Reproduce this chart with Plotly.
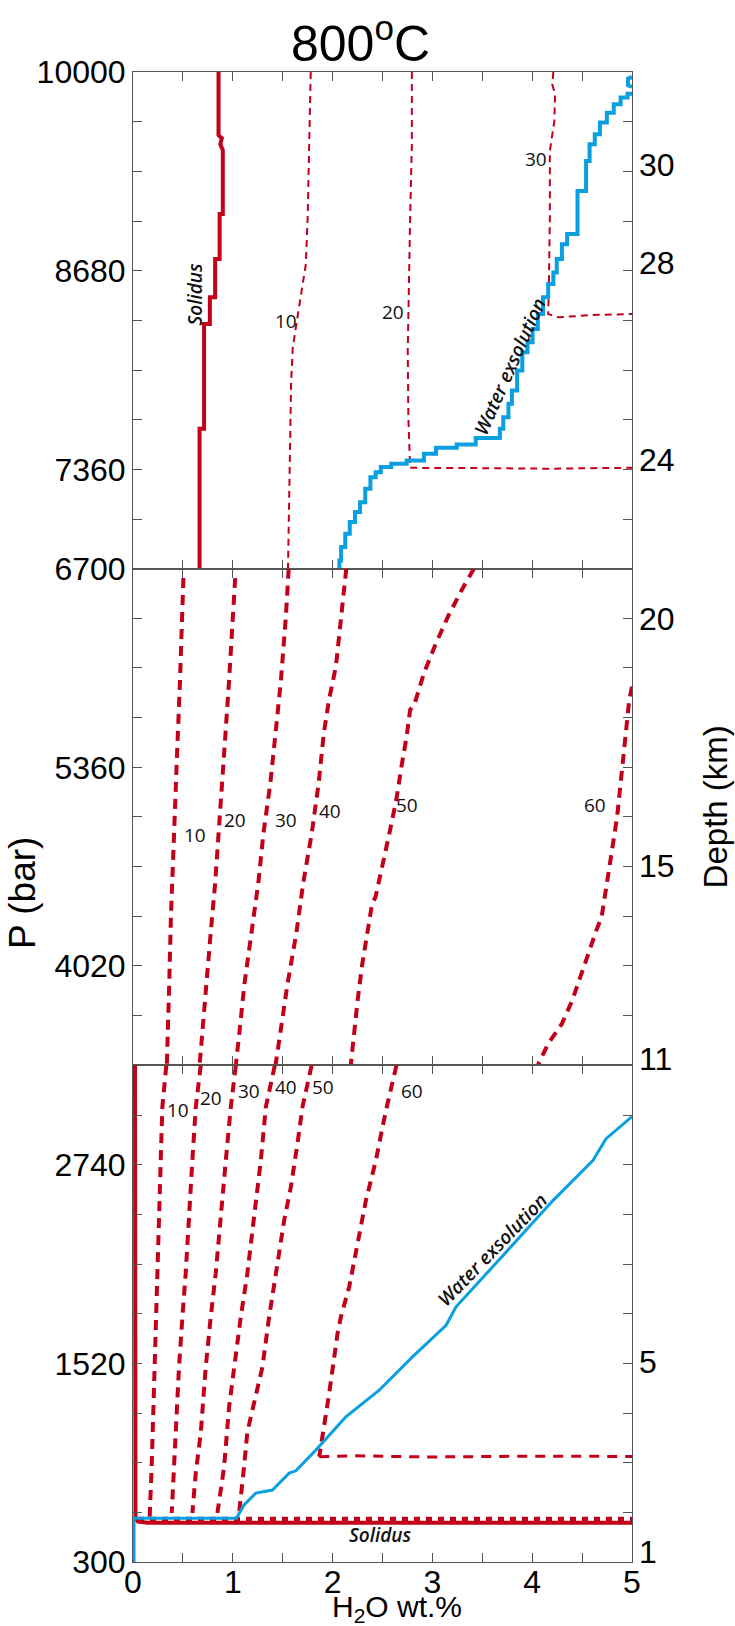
import plotly.graph_objects as go
from plotly.subplots import make_subplots

RED = "#C3001A"
BLUE = "#0A9FE0"
AX = "#555555"
NARROW = "Liberation Sans Narrow, Arial Narrow, Liberation Sans, sans-serif"
LBL = "Open Sans, Liberation Sans, sans-serif"

# ---------------- axes ----------------
x_tick_vals = [0, 0.5, 1, 1.5, 2, 2.5, 3, 3.5, 4, 4.5, 5]
x_tick_text = ["0", "", "1", "", "2", "", "3", "", "4", "", "5"]

p1_tick_vals = [6700, 7030, 7360, 7690, 8020, 8350, 8680, 9010, 9340, 9670, 10000]
p1_tick_text = ["6700", "", "7360", "", "", "", "8680", "", "", "", "10000"]
p2_tick_vals = [3350, 3685, 4020, 4355, 4690, 5025, 5360, 5695, 6030, 6365, 6700]
p2_tick_text = ["", "", "4020", "", "", "", "5360", "", "", "", ""]
p3_tick_vals = [300, 605, 910, 1215, 1520, 1825, 2130, 2435, 2740, 3045, 3350]
p3_tick_text = ["300", "", "", "", "1520", "", "", "", "2740", "", ""]

depth_labels = ["30", "28", "24", "20", "15", "11", "5", "1"]
depth_panel = [1, 1, 1, 2, 2, 2, 3, 3]
depth_pressure = [9383, 8734, 7425, 6361, 4695, 3393, 1528, 361]

# ---------------- panel 1 (6700-10000 bar) ----------------
p1_solidus_x = [0.857, 0.857, 0.89, 0.875, 0.90, 0.90, 0.868, 0.868, 0.823, 0.823, 0.77, 0.77, 0.712, 0.712, 0.667, 0.667]
p1_solidus_p = [10000, 9580, 9560, 9520, 9480, 9056, 9056, 8757, 8757, 8503, 8503, 8326, 8326, 7629, 7629, 6700]

p1_iso10_x = [1.781, 1.767, 1.75, 1.732, 1.687, 1.653, 1.601, 1.584, 1.573, 1.559, 1.553]
p1_iso10_p = [10000, 9476, 9033, 8724, 8547, 8392, 8171, 7928, 7486, 7043, 6700]
p1_iso20_x = [2.794, 2.794, 2.777, 2.766, 2.753, 2.759, 2.777, 2.777, 3.5, 4.2, 4.6, 5.0]
p1_iso20_p = [10000, 9520, 9033, 8591, 8149, 7706, 7397, 7370, 7368, 7364, 7368, 7370]
p1_iso30_x = [4.212, 4.201, 4.229, 4.222, 4.177, 4.177, 4.167, 4.160, 4.26, 4.6, 5.0]
p1_iso30_p = [10000, 9918, 9852, 9675, 9476, 9033, 8591, 8392, 8370, 8385, 8392]

p1_water_x = [2.068, 2.085, 2.127, 2.172, 2.224, 2.275, 2.327, 2.379, 2.431, 2.483, 2.587, 2.742,
              2.915, 3.036, 3.244, 3.434, 3.676, 3.710, 3.762, 3.797, 3.849, 3.901, 3.953, 4.004,
              4.056, 4.108, 4.160, 4.212, 4.246, 4.298, 4.350, 4.454, 4.454, 4.540, 4.575, 4.627,
              4.679, 4.748, 4.817, 4.886, 4.955, 5.0]
p1_water_p = [6700, 6755, 6844, 6932, 7010, 7076, 7142, 7231, 7308, 7341, 7375, 7397,
              7419, 7463, 7503, 7525, 7569, 7629, 7706, 7795, 7883, 8016, 8138, 8204,
              8292, 8392, 8503, 8591, 8668, 8757, 8856, 8923, 9067, 9210, 9409, 9520,
              9586, 9664, 9730, 9785, 9830, 9856]
p1_loop_x = [5.0, 4.96, 4.96, 5.0]
p1_loop_p = [9967, 9956, 9912, 9900]

p1_iso_text = ["10", "20", "30"]
p1_iso_lx = [1.53, 2.61, 4.04]
p1_iso_lp = [8343, 8403, 9425]

# ---------------- panel 2 (3350-6700 bar) ----------------
p2_iso10_x = [0.505, 0.494, 0.470, 0.443, 0.415, 0.398, 0.380, 0.363, 0.349, 0.339]
p2_iso10_p = [6637, 6378, 5928, 5478, 5027, 4802, 4352, 3902, 3564, 3350]
p2_iso20_x = [1.024, 0.996, 0.961, 0.927, 0.892, 0.858, 0.823, 0.778, 0.737, 0.695, 0.667]
p2_iso20_p = [6637, 6265, 5928, 5590, 5252, 4915, 4577, 4239, 3902, 3564, 3350]
p2_iso30_x = [1.560, 1.532, 1.480, 1.428, 1.376, 1.307, 1.255, 1.186, 1.117, 1.065, 1.030]
p2_iso30_p = [6700, 6378, 5928, 5590, 5252, 4915, 4577, 4239, 3902, 3564, 3350]
p2_iso40_x = [2.137, 2.085, 2.033, 1.964, 1.912, 1.860, 1.791, 1.705, 1.636, 1.549, 1.480, 1.428]
p2_iso40_p = [6700, 6378, 6040, 5815, 5590, 5252, 4915, 4577, 4239, 3902, 3564, 3350]
p2_iso50_x = [3.416, 3.295, 3.157, 3.036, 2.915, 2.818, 2.777, 2.742, 2.690, 2.638, 2.569, 2.500,
              2.431, 2.396, 2.345, 2.293, 2.251, 2.216, 2.182]
p2_iso50_p = [6700, 6558, 6378, 6198, 5995, 5781, 5748, 5568, 5365, 5140, 4915, 4690,
              4487, 4442, 4239, 4014, 3789, 3564, 3350]
p2_iso60_x = [5.0, 4.972, 4.945, 4.921, 4.886, 4.851, 4.800, 4.748, 4.696, 4.644, 4.575, 4.488,
              4.402, 4.298, 4.160, 4.056]
p2_iso60_p = [5905, 5815, 5635, 5478, 5252, 5027, 4802, 4577, 4352, 4262, 4127, 3969,
              3789, 3631, 3496, 3350]

p2_iso_text = ["10", "20", "30", "40", "50", "60"]
p2_iso_lx = [0.626, 1.024, 1.532, 1.974, 2.742, 4.633]
p2_iso_lp = [4904, 5005, 5005, 5066, 5106, 5106]

# ---------------- panel 3 (300-3350 bar) ----------------
p3_iso10_x = [0.334, 0.294, 0.278, 0.261, 0.244, 0.230, 0.211, 0.187, 0.167]
p3_iso10_p = [3350, 3094, 2767, 2399, 2073, 1805, 1294, 885, 578]
p3_iso20_x = [0.679, 0.629, 0.595, 0.562, 0.528, 0.495, 0.461, 0.428, 0.388]
p3_iso20_p = [3350, 3094, 2767, 2399, 2073, 1805, 1498, 1092, 601]
p3_iso30_x = [1.030, 0.980, 0.930, 0.879, 0.829, 0.779, 0.729, 0.679, 0.629, 0.595]
p3_iso30_p = [3350, 3094, 2767, 2399, 2073, 1805, 1498, 1092, 847, 601]
p3_iso40_x = [1.421, 1.331, 1.281, 1.214, 1.146, 1.080, 1.013, 0.963, 0.913, 0.846]
p3_iso40_p = [3350, 3094, 2767, 2399, 2073, 1805, 1498, 1253, 885, 601]
p3_iso50_x = [1.79, 1.698, 1.648, 1.582, 1.515, 1.464, 1.404, 1.364, 1.297, 1.197, 1.146, 1.113, 1.063]
p3_iso50_p = [3350, 3094, 2869, 2603, 2399, 2194, 1989, 1805, 1498, 1233, 1100, 885, 601]
p3_iso60_x = [2.64, 2.60, 2.535, 2.467, 2.434, 2.334, 2.267, 2.166, 2.083, 2.05, 1.966, 1.90, 1.866,
              2.2, 3.0, 4.0, 5.0]
p3_iso60_p = [3350, 3250, 3074, 2871, 2767, 2521, 2319, 1989, 1805, 1705, 1337, 1092, 946,
              952, 945, 950, 948]

p3_solidus_x = [0.02, 0.02, 0.025, 0.05, 0.15, 5.0]
p3_solidus_p = [3350, 700, 570, 548, 541, 541]
p3_solidus_dash_x = [0.05, 5.0]
p3_solidus_dash_p = [562, 562]

p3_water_x = [0.01, 0.01, 1.036, 1.113, 1.230, 1.397, 1.565, 1.632, 1.832, 2.133, 2.467, 2.80,
              3.137, 3.237, 3.74, 3.94, 4.21, 4.61, 4.74, 5.0]
p3_water_p = [300, 568, 568, 650, 723, 742, 846, 860, 987, 1192, 1355, 1560,
              1754, 1867, 2204, 2337, 2521, 2767, 2900, 3035]

p3_iso_text = ["10", "20", "30", "40", "50", "60"]
p3_iso_lx = [0.455, 0.779, 1.163, 1.531, 1.906, 2.795]
p3_iso_lp = [3074, 3152, 3192, 3217, 3217, 3192]

# ---------------- figure ----------------
fig = make_subplots(rows=3, cols=1, vertical_spacing=0)


def line(x, p, row, color, width, dash=None, shape="linear"):
    fig.add_trace(go.Scatter(x=x, y=p, mode="lines", showlegend=False, hoverinfo="skip",
                             line=dict(color=color, width=width, dash=dash, shape=shape)),
                  row=row, col=1)


# panel 1
for xs, ps in [(p1_iso10_x, p1_iso10_p), (p1_iso20_x, p1_iso20_p), (p1_iso30_x, p1_iso30_p)]:
    line(xs, ps, 1, RED, 2, "7px,5px")
line(p1_solidus_x, p1_solidus_p, 1, RED, 4)
line(p1_water_x, p1_water_p, 1, BLUE, 4, shape="vh")
line(p1_loop_x, p1_loop_p, 1, BLUE, 4)

# panel 2
for xs, ps in [(p2_iso10_x, p2_iso10_p), (p2_iso20_x, p2_iso20_p), (p2_iso30_x, p2_iso30_p),
               (p2_iso40_x, p2_iso40_p), (p2_iso50_x, p2_iso50_p), (p2_iso60_x, p2_iso60_p)]:
    line(xs, ps, 2, RED, 4, "10px,7px")

# panel 3
for xs, ps in [(p3_iso10_x, p3_iso10_p), (p3_iso20_x, p3_iso20_p), (p3_iso30_x, p3_iso30_p),
               (p3_iso40_x, p3_iso40_p), (p3_iso50_x, p3_iso50_p)]:
    line(xs, ps, 3, RED, 4, "10px,7px")
line(p3_iso60_x[:13], p3_iso60_p[:13], 3, RED, 4, "10px,7px")
line(p3_iso60_x[12:], p3_iso60_p[12:], 3, RED, 3, "10px,8px")
line(p3_solidus_x, p3_solidus_p, 3, RED, 4)
line(p3_solidus_dash_x, p3_solidus_dash_p, 3, RED, 5, "6px,6px")
line(p3_water_x, p3_water_p, 3, BLUE, 3)

# axes
axis_common = dict(showgrid=False, zeroline=False, showline=True, linecolor=AX, linewidth=1,
                   mirror="allticks", ticks="inside", ticklen=9, tickwidth=1.3, tickcolor=AX,
                   tickfont=dict(family=NARROW, size=32, color="black"))
for r in (1, 2, 3):
    fig.update_xaxes(range=[0, 5], tickmode="array", tickvals=x_tick_vals, ticktext=x_tick_text,
                     showticklabels=(r == 3), row=r, col=1, **axis_common)
fig.update_xaxes(ticklabelstandoff=-8, row=3, col=1)
fig.update_yaxes(range=[6700, 10000], tickmode="array", tickvals=p1_tick_vals, ticktext=p1_tick_text,
                 row=1, col=1, **axis_common)
fig.update_yaxes(range=[3350, 6700], tickmode="array", tickvals=p2_tick_vals, ticktext=p2_tick_text,
                 row=2, col=1, **axis_common)
fig.update_yaxes(range=[300, 3350], tickmode="array", tickvals=p3_tick_vals, ticktext=p3_tick_text,
                 row=3, col=1, **axis_common)

ann = []
yrefs = {1: "y", 2: "y2", 3: "y3"}
xrefs = {1: "x", 2: "x2", 3: "x3"}

for panel, texts, lx, lp in [(1, p1_iso_text, p1_iso_lx, p1_iso_lp),
                             (2, p2_iso_text, p2_iso_lx, p2_iso_lp),
                             (3, p3_iso_text, p3_iso_lx, p3_iso_lp)]:
    for t, x, p in zip(texts, lx, lp):
        ann.append(dict(text=t, x=x, y=p, xref=xrefs[panel], yref=yrefs[panel], showarrow=False,
                        font=dict(family=LBL, size=19, color="#111111")))

ital = dict(family=LBL, size=19, color="#111111", style="italic", weight=600)
ann += [
    dict(text="Solidus", x=0.626, y=8525, xref="x", yref="y", textangle=-90, showarrow=False, font=ital),
    dict(text="Water exsolution", x=3.77, y=8043, xref="x", yref="y", textangle=-66, showarrow=False, font=ital),
    dict(text="Solidus", x=2.48, y=466, xref="x3", yref="y3", showarrow=False, font=ital),
    dict(text="Water exsolution", x=3.598, y=2215, xref="x3", yref="y3", textangle=-46, showarrow=False, font=ital),
]

for t, panel, p in zip(depth_labels, depth_panel, depth_pressure):
    ann.append(dict(text=t, x=1, y=p, xref="paper", yref=yrefs[panel], xanchor="left", xshift=5,
                    showarrow=False, font=dict(family=NARROW, size=32, color="black")))

ann += [
    dict(text="800<sup>o</sup>C", x=0.455, y=1.0215, xref="paper", yref="paper", showarrow=False,
         xanchor="center", yanchor="middle", font=dict(family=NARROW, size=50, color="black")),
    dict(text="P (bar)", x=-0.2204, y=0.449, xref="paper", yref="paper", textangle=-90, showarrow=False,
         xanchor="center", yanchor="middle", font=dict(family=NARROW, size=37, color="black")),
    dict(text="Depth (km)", x=1.168, y=0.507, xref="paper", yref="paper", textangle=-90, showarrow=False,
         xanchor="center", yanchor="middle", font=dict(family=NARROW, size=33, color="black")),
    dict(text="H<sub>2</sub>O wt.%", x=0.53, y=-0.0315, xref="paper", yref="paper", showarrow=False,
         xanchor="center", yanchor="middle", font=dict(family=NARROW, size=30, color="black")),
]

fig.update_layout(width=735, height=1626, margin=dict(l=133, r=103, t=72, b=64),
                  plot_bgcolor="white", paper_bgcolor="white", annotations=ann, showlegend=False)

fig.write_html("out.html")
